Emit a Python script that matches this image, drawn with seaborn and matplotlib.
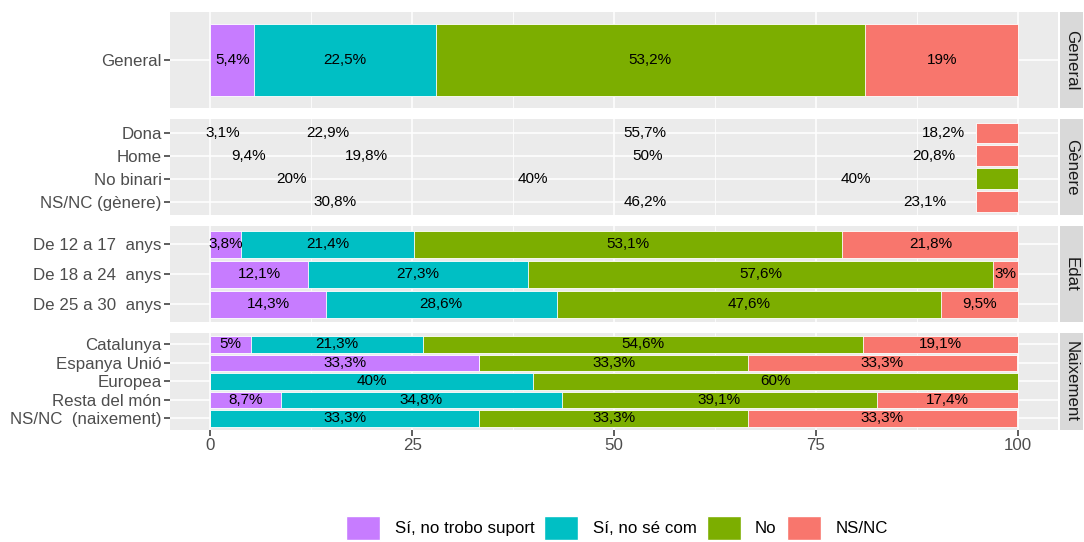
import numpy as np
import pandas as pd
import matplotlib
matplotlib.use("Agg")
import matplotlib.pyplot as plt
import seaborn as sns
from matplotlib.patches import Patch

# ---------------- data ----------------
categories = ["Sí, no trobo suport", "Sí, no sé com", "No", "NS/NC"]
colors = ["#C77CFF", "#00BFC4", "#7CAE00", "#F8766D"]

general_rows = ["General"]
general_vals = [[5.4, 22.5, 53.2, 19.0]]

genere_rows = ["Dona", "Home", "No binari", "NS/NC (gènere)"]
genere_vals = [[3.1, 22.9, 55.7, 18.2],
               [9.4, 19.8, 50.0, 20.8],
               [20.0, 40.0, 40.0, 0.0],
               [0.0, 30.8, 46.2, 23.1]]
# in the reference, the Gènere bars only show their last segment, from here to 100
genere_bar_from = [94.8, 94.8, 94.8, 94.8]

edat_rows = ["De 12 a 17  anys", "De 18 a 24  anys", "De 25 a 30  anys"]
edat_vals = [[3.8, 21.4, 53.1, 21.8],
             [12.1, 27.3, 57.6, 3.0],
             [14.3, 28.6, 47.6, 9.5]]

naix_rows = ["Catalunya", "Espanya Unió", "Europea", "Resta del món", "NS/NC  (naixement)"]
naix_vals = [[5.0, 21.3, 54.6, 19.1],
             [33.3, 0.0, 33.3, 33.3],
             [0.0, 40.0, 60.0, 0.0],
             [8.7, 34.8, 39.1, 17.4],
             [0.0, 33.3, 33.3, 33.3]]

facet_names = ["General", "Gènere", "Edat", "Naixement"]
x_ticks = [0, 25, 50, 75, 100]
x_ticklabels = ["0", "25", "50", "75", "100"]

# ---------------- style ----------------
sns.set_theme(style="white")
plt.rcParams["font.family"] = ["Liberation Sans", "DejaVu Sans"]

W, H = 1084, 542
fig = plt.figure(figsize=(W / 100, H / 100), dpi=100)

panel_left, panel_right = 170, 1058
top, bottom, gap = 12, 429.5, 11
ph = (bottom - top - 3 * gap) / 4

TXT = "#4D4D4D"
TICK = "#333333"


def fmt(v):
    s = f"{v:.1f}"
    if s.endswith(".0"):
        s = s[:-2]
    return s.replace(".", ",") + "%"


facets = [
    ("General", general_rows, general_vals, None),
    ("Gènere", genere_rows, genere_vals, genere_bar_from),
    ("Edat", edat_rows, edat_vals, None),
    ("Naixement", naix_rows, naix_vals, None),
]

for i, (name, rows, vals, bar_from) in enumerate(facets):
    y0 = top + i * (ph + gap)
    ax = fig.add_axes([panel_left / W, 1 - (y0 + ph) / H, (panel_right - panel_left) / W, ph / H])
    ax.set_facecolor("#EBEBEB")
    arr = np.array(vals, dtype=float)
    cum = np.cumsum(arr, axis=1)
    n = len(rows)

    if bar_from is None:
        # stacked bars by overlaying cumulative totals, widest first
        for k in reversed(range(len(categories))):
            df = pd.DataFrame({"grupo": rows, "valor": cum[:, k]})
            sns.barplot(data=df, x="valor", y="grupo", order=rows, orient="h",
                        color=colors[k], saturation=1, width=0.9, errorbar=None,
                        edgecolor="white", linewidth=0.6, ax=ax)
    else:
        last_idx = [max(j for j in range(len(categories)) if r[j] > 0) for r in arr]
        ax.barh(np.arange(n), [100 - s for s in bar_from], left=bar_from, height=0.9,
                color=[colors[j] for j in last_idx], edgecolor="white", linewidth=0.6)

    # labels
    for r in range(n):
        start = 0.0
        for k in range(len(categories)):
            v = arr[r, k]
            if v > 0:
                ax.text(start + v / 2, r, fmt(v), ha="center", va="center",
                        fontsize=11, color="black", zorder=5)
            start += v

    ax.set_xlim(-5, 105)
    ax.set_ylim(n - 1 + 0.6, -0.6)
    ax.set_yticks(np.arange(n))
    ax.set_yticklabels(rows)
    ax.set_xticks(x_ticks)
    ax.set_xticks([12.5, 37.5, 62.5, 87.5], minor=True)
    ax.set_axisbelow(True)
    ax.grid(which="major", color="white", linewidth=1.1)
    ax.grid(which="minor", axis="x", color="white", linewidth=0.55)
    ax.set_xlabel("")
    ax.set_ylabel("")
    for sp in ax.spines.values():
        sp.set_visible(False)
    ax.tick_params(axis="y", which="major", length=4, width=1.1, color=TICK,
                   labelcolor=TXT, labelsize=12.2, pad=2, left=True)
    ax.tick_params(axis="x", which="minor", length=0)
    if i == len(facets) - 1:
        ax.set_xticklabels(x_ticklabels)
        ax.tick_params(axis="x", which="major", length=4, width=1.1, color=TICK,
                       labelcolor=TXT, labelsize=12.2, pad=2, bottom=True)
    else:
        ax.tick_params(axis="x", which="major", length=0, labelbottom=False)

    # strip
    sax = fig.add_axes([1060 / W, 1 - (y0 + ph) / H, 23 / W, ph / H])
    sax.set_facecolor("#D9D9D9")
    sax.set_xticks([])
    sax.set_yticks([])
    for sp in sax.spines.values():
        sp.set_visible(False)
    sax.text(0.5, 0.5, name, rotation=-90, ha="center", va="center",
             fontsize=12.2, color="#1A1A1A", transform=sax.transAxes)

handles = [Patch(facecolor=c, edgecolor="white", label=l) for c, l in zip(colors, categories)]
fig.legend(handles=handles, loc="center", bbox_to_anchor=(617 / W, 1 - 528 / H), ncol=4,
           frameon=False, fontsize=12.2, handlelength=2.0, handleheight=1.8,
           handletextpad=0.85, columnspacing=0.6, labelcolor="black")

fig.savefig("out.png", dpi=100)
